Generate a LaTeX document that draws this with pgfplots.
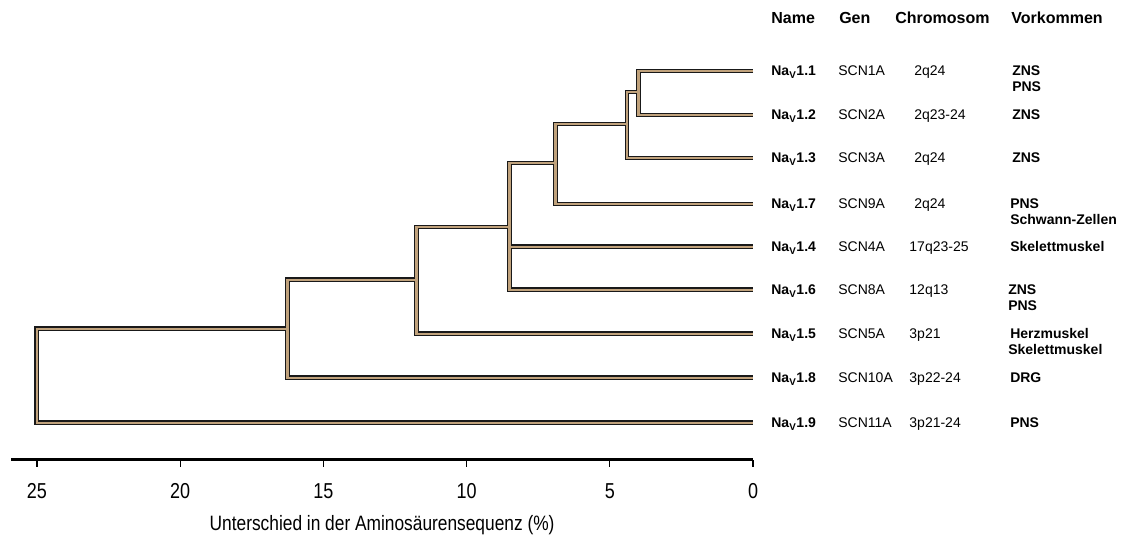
\documentclass[border=0pt]{standalone}
\usepackage{fontspec}
\setmainfont{Liberation Sans}
\usepackage{pgfplots}
\pgfplotsset{compat=1.18}
\definecolor{tanc}{RGB}{192,162,124}
\newcommand{\dendro}[1]{%
\addplot[#1] coordinates {(0,389)(4.0,389)(4.0,345)(0,345)};
\addplot[#1] coordinates {(4.0,368)(4.4,368)(4.4,302)(0,302)};
\addplot[#1] coordinates {(4.4,336)(6.9,336)(6.9,256)(0,256)};
\addplot[#1] coordinates {(6.9,297)(8.5,297)(8.5,170)(0,170)};
\addplot[#1] coordinates {(8.5,213)(0,213)};
\addplot[#1] coordinates {(8.5,233)(11.75,233)(11.75,126)(0,126)};
\addplot[#1] coordinates {(11.75,180)(16.25,180)(16.25,82)(0,82)};
\addplot[#1] coordinates {(16.25,131)(25,131)(25,37)(0,37)};
}
\begin{document}
\begin{tikzpicture}
\begin{axis}[
  scale only axis,
  width=556.5pt, height=345pt,
  xmin=0, xmax=25.9, ymin=0, ymax=460,
  x dir=reverse,
  axis x line=bottom,
  axis y line=none,
  x axis line style={-, line width=2.2pt, black},
  xtick={0,5,10,15,20,25},
  tick align=outside,
  major tick length=5pt,
  x tick style={black, line width=0.9pt},
  /pgf/number format/assume math mode=true,
  xticklabel={\scalebox{1}[1.2]{\pgfmathprintnumber{\tick}}},
  xticklabel style={font=\fontsize{13.5}{15}\selectfont, anchor=north, yshift=-9pt},
  xlabel={\scalebox{1}[1.2]{Unterschied in der Aminosäurensequenz (\%)}},
  xlabel style={font=\fontsize{13}{15}\selectfont, anchor=north, yshift=-6pt},
  clip=false,
]
\dendro{black!90, line width=3.7pt, line join=miter, line cap=butt}
\dendro{tanc, line width=1.7pt, line join=miter, line cap=butt}

\path (axis cs:26.29,-80) rectangle (axis cs:-12.88,460);

\begin{scope}[every node/.style={anchor=base west, inner sep=0pt, font=\fontsize{12}{14}\selectfont\bfseries}]
\node at (axis cs:-0.63,436) {Name};
\node at (axis cs:-3.00,436) {Gen};
\node at (axis cs:-4.96,436) {Chromosom};
\node at (axis cs:-9.01,436) {Vorkommen};
\end{scope}

\begin{scope}[every node/.style={anchor=base west, inner sep=0pt, font=\fontsize{10.5}{12}\selectfont\bfseries}]
\node at (axis cs:-0.63,384) {Na\textsubscript{V}1.1};
\node at (axis cs:-0.63,340) {Na\textsubscript{V}1.2};
\node at (axis cs:-0.63,297) {Na\textsubscript{V}1.3};
\node at (axis cs:-0.63,251) {Na\textsubscript{V}1.7};
\node at (axis cs:-0.63,208) {Na\textsubscript{V}1.4};
\node at (axis cs:-0.63,165) {Na\textsubscript{V}1.6};
\node at (axis cs:-0.63,121) {Na\textsubscript{V}1.5};
\node at (axis cs:-0.63,77) {Na\textsubscript{V}1.8};
\node at (axis cs:-0.63,32) {Na\textsubscript{V}1.9};
\node at (axis cs:-9.04,384) {ZNS};
\node at (axis cs:-9.04,368) {PNS};
\node at (axis cs:-9.04,340) {ZNS};
\node at (axis cs:-9.04,297) {ZNS};
\node at (axis cs:-8.97,251) {PNS};
\node at (axis cs:-8.97,235) {Schwann-Zellen};
\node at (axis cs:-8.97,208) {Skelettmuskel};
\node at (axis cs:-8.90,165) {ZNS};
\node at (axis cs:-8.90,149) {PNS};
\node at (axis cs:-8.97,121) {Herzmuskel};
\node at (axis cs:-8.90,105) {Skelettmuskel};
\node at (axis cs:-8.97,77) {DRG};
\node at (axis cs:-8.97,32) {PNS};
\end{scope}

\begin{scope}[every node/.style={anchor=base west, inner sep=0pt, font=\fontsize{10.5}{12}\selectfont}]
\node at (axis cs:-2.97,384) {SCN1A};
\node at (axis cs:-2.97,340) {SCN2A};
\node at (axis cs:-2.97,297) {SCN3A};
\node at (axis cs:-2.97,251) {SCN9A};
\node at (axis cs:-2.97,208) {SCN4A};
\node at (axis cs:-2.97,165) {SCN8A};
\node at (axis cs:-2.97,121) {SCN5A};
\node at (axis cs:-2.97,77) {SCN10A};
\node at (axis cs:-2.97,32) {SCN11A};
\node at (axis cs:-5.62,384) {2q24};
\node at (axis cs:-5.62,340) {2q23-24};
\node at (axis cs:-5.62,297) {2q24};
\node at (axis cs:-5.62,251) {2q24};
\node at (axis cs:-5.45,208) {17q23-25};
\node at (axis cs:-5.45,165) {12q13};
\node at (axis cs:-5.45,121) {3p21};
\node at (axis cs:-5.45,77) {3p22-24};
\node at (axis cs:-5.45,32) {3p21-24};
\end{scope}
\end{axis}
\end{tikzpicture}
\end{document}
